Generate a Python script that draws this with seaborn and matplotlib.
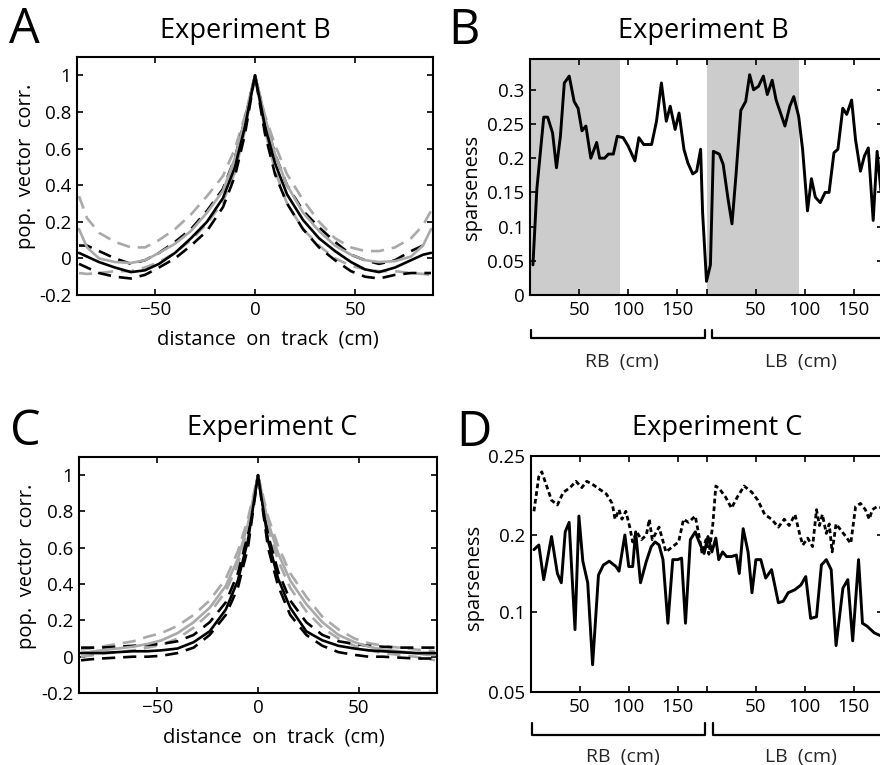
import numpy as np
import matplotlib
matplotlib.use("Agg")
import matplotlib.pyplot as plt
import matplotlib.transforms as mtransforms
import seaborn as sns

# ---- panel A / C : population vector correlation vs distance ----
dist_cm = [-88, -84, -78, -70, -62, -55, -48, -40, -32, -24, -16, -10, -5, 0,
           5, 10, 16, 24, 32, 40, 48, 55, 62, 70, 78, 84, 88]

a_black = [0.03, 0.01, -0.02, -0.05, -0.075, -0.065, -0.03, 0.03, 0.11, 0.2, 0.33, 0.5, 0.72, 1.0,
           0.72, 0.52, 0.35, 0.21, 0.11, 0.04, -0.02, -0.06, -0.075, -0.05, -0.01, 0.02, 0.03]
a_black_hi = [0.07, 0.07, 0.04, 0.0, -0.03, -0.01, 0.03, 0.09, 0.16, 0.26, 0.38, 0.55, 0.76, 1.0,
              0.76, 0.57, 0.4, 0.26, 0.17, 0.09, 0.02, -0.01, -0.03, -0.01, 0.04, 0.07, 0.07]
a_black_lo = [-0.03, -0.05, -0.08, -0.1, -0.11, -0.09, -0.05, 0.0, 0.07, 0.15, 0.28, 0.45, 0.68, 1.0,
              0.68, 0.46, 0.3, 0.16, 0.06, -0.01, -0.07, -0.1, -0.11, -0.09, -0.08, -0.08, -0.08]
a_gray = [0.16, 0.06, 0.0, -0.02, -0.025, -0.01, 0.03, 0.08, 0.15, 0.25, 0.37, 0.55, 0.76, 1.0,
          0.77, 0.57, 0.4, 0.25, 0.15, 0.07, 0.02, -0.01, -0.02, -0.015, 0.01, 0.07, 0.16]
a_gray_hi = [0.34, 0.22, 0.14, 0.09, 0.06, 0.06, 0.1, 0.16, 0.24, 0.34, 0.45, 0.6, 0.78, 1.0,
             0.78, 0.62, 0.46, 0.32, 0.2, 0.11, 0.06, 0.04, 0.04, 0.06, 0.11, 0.18, 0.26]
a_gray_lo = [-0.08, -0.085, -0.08, -0.07, -0.07, -0.05, -0.02, 0.03, 0.1, 0.19, 0.31, 0.47, 0.7, 1.0,
             0.7, 0.48, 0.3, 0.16, 0.07, 0.0, -0.04, -0.06, -0.07, -0.07, -0.08, -0.085, -0.09]

c_black = [0.02, 0.02, 0.02, 0.025, 0.03, 0.03, 0.035, 0.045, 0.08, 0.14, 0.26, 0.42, 0.64, 1.0,
           0.64, 0.43, 0.27, 0.14, 0.09, 0.06, 0.045, 0.035, 0.03, 0.025, 0.02, 0.02, 0.02]
c_black_hi = [0.05, 0.05, 0.05, 0.055, 0.06, 0.065, 0.07, 0.085, 0.12, 0.19, 0.3, 0.46, 0.67, 1.0,
              0.67, 0.47, 0.31, 0.19, 0.12, 0.085, 0.07, 0.06, 0.055, 0.05, 0.05, 0.05, 0.05]
c_black_lo = [-0.02, -0.015, -0.01, -0.005, 0.0, 0.0, 0.005, 0.02, 0.05, 0.12, 0.23, 0.38, 0.6, 1.0,
              0.6, 0.39, 0.23, 0.12, 0.06, 0.025, 0.01, 0.0, 0.0, -0.005, -0.01, -0.01, -0.01]
c_gray = [0.02, 0.025, 0.035, 0.045, 0.055, 0.07, 0.09, 0.13, 0.19, 0.27, 0.39, 0.54, 0.73, 1.0,
          0.74, 0.57, 0.42, 0.29, 0.19, 0.12, 0.08, 0.055, 0.04, 0.03, 0.02, 0.01, 0.01]
c_gray_hi = [0.04, 0.045, 0.055, 0.07, 0.085, 0.11, 0.13, 0.17, 0.23, 0.31, 0.43, 0.58, 0.76, 1.0,
             0.77, 0.61, 0.46, 0.33, 0.22, 0.15, 0.1, 0.075, 0.06, 0.05, 0.04, 0.035, 0.03]
c_gray_lo = [0.0, 0.005, 0.015, 0.025, 0.035, 0.05, 0.065, 0.1, 0.16, 0.24, 0.36, 0.51, 0.71, 1.0,
             0.71, 0.53, 0.38, 0.25, 0.16, 0.1, 0.06, 0.035, 0.02, 0.01, 0.0, -0.01, -0.02]

corr_yticks = [-0.2, 0, 0.2, 0.4, 0.6, 0.8, 1]
corr_yticklabels = ["-0.2", "0", "0.2", "0.4", "0.6", "0.8", "1"]
dist_xticks = [-50, 0, 50]

# ---- panel B : sparseness along RB then LB (Experiment B) ----
b_pos = [3, 7, 10, 14, 18, 23, 27, 31, 35, 40, 45, 49, 53, 57, 62, 68, 71, 76, 80, 85, 89, 95,
         100, 107, 111, 116, 124, 129, 134, 139, 143, 148, 152, 157, 161, 166, 170, 174, 176, 180,
         184, 187, 193, 197, 202, 206, 210, 215, 220, 224, 228, 233, 238, 242, 247, 251, 256, 260,
         265, 269, 274, 278, 283, 287, 291, 296, 301, 305, 310, 314, 319, 323, 328, 332, 337, 341,
         345, 350, 354, 358]
b_sparse = [0.044, 0.155, 0.2, 0.26, 0.26, 0.237, 0.186, 0.232, 0.31, 0.32, 0.283, 0.273, 0.24,
            0.247, 0.2, 0.223, 0.2, 0.2, 0.206, 0.206, 0.232, 0.23, 0.218, 0.196, 0.23, 0.22, 0.22,
            0.254, 0.31, 0.254, 0.276, 0.242, 0.266, 0.213, 0.193, 0.177, 0.181, 0.213, 0.121, 0.02,
            0.044, 0.21, 0.206, 0.191, 0.14, 0.104, 0.174, 0.27, 0.283, 0.322, 0.3, 0.305, 0.32,
            0.293, 0.314, 0.285, 0.264, 0.247, 0.276, 0.29, 0.261, 0.213, 0.123, 0.17, 0.143, 0.135,
            0.15, 0.15, 0.208, 0.213, 0.273, 0.264, 0.285, 0.227, 0.181, 0.203, 0.215, 0.109, 0.21,
            0.15]
b_shaded = [(0, 92), (181, 274)]

# ---- panel D : sparseness (Experiment C), dashed + solid ----
d_dash_pos = [3, 8, 11, 16, 21, 27, 33, 40, 46, 52, 57, 63, 70, 77, 83, 86, 90, 93, 97, 101, 104,
              108, 113, 118, 121, 124, 131, 138, 145, 151, 156, 161, 168, 172, 175, 179, 182, 186,
              189, 193, 199, 205, 211, 218, 226, 232, 239, 246, 253, 259, 264, 270, 275, 278, 283,
              288, 292, 295, 298, 302, 305, 308, 312, 317, 322, 327, 332, 337, 342, 346, 349, 354,
              360]
d_dash = [0.215, 0.237, 0.24, 0.231, 0.222, 0.219, 0.227, 0.23, 0.234, 0.23, 0.234, 0.232, 0.229,
          0.226, 0.22, 0.21, 0.216, 0.21, 0.215, 0.205, 0.191, 0.202, 0.194, 0.2, 0.21, 0.194,
          0.205, 0.178, 0.185, 0.191, 0.21, 0.208, 0.212, 0.198, 0.176, 0.194, 0.175, 0.207, 0.231,
          0.229, 0.224, 0.217, 0.224, 0.231, 0.227, 0.222, 0.213, 0.21, 0.205, 0.21, 0.206, 0.213,
          0.2, 0.187, 0.196, 0.185, 0.216, 0.206, 0.213, 0.201, 0.207, 0.178, 0.207, 0.203, 0.198,
          0.189, 0.218, 0.22, 0.216, 0.21, 0.216, 0.218, 0.217]
d_solid_pos = [3, 8, 13, 21, 27, 31, 35, 39, 45, 49, 53, 58, 63, 69, 74, 80, 87, 90, 96, 100, 104,
               107, 112, 118, 123, 127, 131, 135, 140, 145, 150, 154, 158, 163, 168, 172, 177, 181,
               185, 189, 192, 196, 200, 205, 210, 213, 217, 222, 226, 230, 235, 240, 246, 253, 258,
               263, 270, 276, 281, 286, 292, 297, 302, 307, 312, 319, 324, 329, 335, 339, 344, 351,
               358]
d_solid = [0.181, 0.187, 0.142, 0.198, 0.15, 0.138, 0.202, 0.208, 0.089, 0.212, 0.166, 0.138,
           0.067, 0.148, 0.161, 0.166, 0.159, 0.153, 0.2, 0.159, 0.159, 0.202, 0.138, 0.166, 0.185,
           0.191, 0.187, 0.168, 0.093, 0.168, 0.168, 0.17, 0.093, 0.194, 0.202, 0.191, 0.176, 0.198,
           0.178, 0.196, 0.168, 0.178, 0.172, 0.172, 0.174, 0.15, 0.204, 0.178, 0.125, 0.168, 0.168,
           0.144, 0.155, 0.112, 0.114, 0.125, 0.129, 0.135, 0.146, 0.096, 0.097, 0.161, 0.168, 0.155,
           0.079, 0.131, 0.142, 0.082, 0.168, 0.093, 0.091, 0.087, 0.085]

track_xticks = [50, 100, 150, 180, 230, 280, 330]
track_xticklabels = ["50", "100", "150", "", "50", "100", "150"]
b_yticks = [0, 0.05, 0.1, 0.15, 0.2, 0.25, 0.3]
b_yticklabels = ["0", "0.05", "0.1", "0.15", "0.2", "0.25", "0.3"]
d_yticks = [0.05, 0.1, 0.2, 0.25]
d_yticklabels = ["0.05", "0.1", "0.2", "0.25"]
# the D axis is spaced unevenly in the original: tick value -> relative height
d_knots = [0.05, 0.1, 0.2, 0.25]
d_knot_pos = [0, 80, 157, 236]

W, H = 880, 765
sns.set_theme(style="ticks")
plt.rcParams["font.family"] = ["Open Sans", "DejaVu Sans"]
plt.rcParams["axes.linewidth"] = 1.5

fig = plt.figure(figsize=(W / 100, H / 100), dpi=100)


def px_axes(l, t, r, b):
    return fig.add_axes([l / W, 1 - b / H, (r - l) / W, (b - t) / H])


def px_text(x, y, s, **kw):
    fig.text(x / W, 1 - y / H, s, ha="center", va="center", color="black", **kw)


def style_axes(ax):
    ax.tick_params(direction="in", top=True, right=True, length=4, width=1.2,
                   labelsize=13.5, pad=4, colors="black")
    for sp in ax.spines.values():
        sp.set_visible(True)
        sp.set_color("black")
        sp.set_linewidth(1.5)


GRAY = "#a9a9a9"
LONG_DASH = (0, (5, 3))


def corr_panel(ax, curves):
    for y, col, ls in curves:
        sns.lineplot(x=dist_cm, y=y, ax=ax, color=col, linestyle=ls, lw=1.9)
    ax.set_xlim(-89, 89)
    ax.set_ylim(-0.2, 1.1)
    ax.set_xticks(dist_xticks)
    ax.set_yticks(corr_yticks)
    ax.set_yticklabels(corr_yticklabels)
    ax.set_xlabel("")
    ax.set_ylabel("")
    style_axes(ax)


def bracket_panel(ax, y_ends, y_bar, y_lab):
    trans = mtransforms.blended_transform_factory(ax.transData, ax.transAxes)
    for x0, x1 in [(1, 178), (186, 375)]:
        ax.plot([x0, x0, x1, x1], [y_ends, y_bar, y_bar, y_ends], color="black", lw=1.6,
                transform=trans, clip_on=False)
    ax.text(94, y_lab, "RB  (cm)", transform=trans, ha="center", va="center", fontsize=14)
    ax.text(276, y_lab, "LB  (cm)", transform=trans, ha="center", va="center", fontsize=14)


# A
axA = px_axes(77, 57, 433, 295)
corr_panel(axA, [
    (a_gray_hi, GRAY, LONG_DASH), (a_gray_lo, GRAY, LONG_DASH),
    (a_black_hi, "black", LONG_DASH), (a_black_lo, "black", LONG_DASH),
    (a_gray, GRAY, "-"), (a_black, "black", "-"),
])
px_text(268, 340, "distance  on  track  (cm)", fontsize=14.5)
px_text(26, 166, "pop.  vector  corr.", fontsize=14.5, rotation=90)

# C
axC = px_axes(79, 457, 437, 693)
corr_panel(axC, [
    (c_gray_hi, GRAY, LONG_DASH), (c_gray_lo, GRAY, LONG_DASH),
    (c_black_hi, "black", LONG_DASH), (c_black_lo, "black", LONG_DASH),
    (c_gray, GRAY, "-"), (c_black, "black", "-"),
])
px_text(274, 737, "distance  on  track  (cm)", fontsize=14.5)
px_text(27, 566, "pop.  vector  corr.", fontsize=14.5, rotation=90)

# B
axB = px_axes(530, 59, 883, 295)
for x0, x1 in b_shaded:
    axB.axvspan(x0, x1, color="#cccccc", lw=0, zorder=0)
sns.lineplot(x=b_pos, y=b_sparse, ax=axB, color="black", lw=2.1, sort=False)
axB.set_xlim(0, 360)
axB.set_ylim(0, 0.345)
axB.set_xticks(track_xticks)
axB.set_xticklabels(track_xticklabels)
axB.set_yticks(b_yticks)
axB.set_yticklabels(b_yticklabels)
axB.set_xlabel("")
axB.set_ylabel("")
style_axes(axB)
bracket_panel(axB, -0.148, -0.182, -0.284)
px_text(472, 187, "sparseness", fontsize=14.5, rotation=90)

# D
axD = px_axes(531, 456, 883, 692)
d_fwd = lambda v: np.interp(v, d_knots, d_knot_pos)
d_inv = lambda v: np.interp(v, d_knot_pos, d_knots)
axD.set_yscale("function", functions=(d_fwd, d_inv))
sns.lineplot(x=d_dash_pos, y=d_dash, ax=axD, color="black", lw=2.0, sort=False,
             linestyle=(0, (1.7, 1.1)))
sns.lineplot(x=d_solid_pos, y=d_solid, ax=axD, color="black", lw=2.1, sort=False)
axD.set_xlim(0, 360)
axD.set_ylim(0.05, 0.25)
axD.set_xticks(track_xticks)
axD.set_xticklabels(track_xticklabels)
axD.set_yticks(d_yticks)
axD.set_yticklabels(d_yticklabels)
axD.minorticks_off()
axD.set_xlabel("")
axD.set_ylabel("")
style_axes(axD)
bracket_panel(axD, -0.13, -0.182, -0.275)
px_text(474, 577, "sparseness", fontsize=14.5, rotation=90)

# titles and panel letters
px_text(245, 31, "Experiment B", fontsize=19.5)
px_text(703, 31, "Experiment B", fontsize=19.5)
px_text(272, 428, "Experiment C", fontsize=19.5)
px_text(717, 428, "Experiment C", fontsize=19.5)
px_text(24, 30, "A", fontsize=35)
px_text(464, 31, "B", fontsize=35)
px_text(25, 432, "C", fontsize=35)
px_text(474, 433, "D", fontsize=35)

fig.savefig("out.png", dpi=100, facecolor="white")
